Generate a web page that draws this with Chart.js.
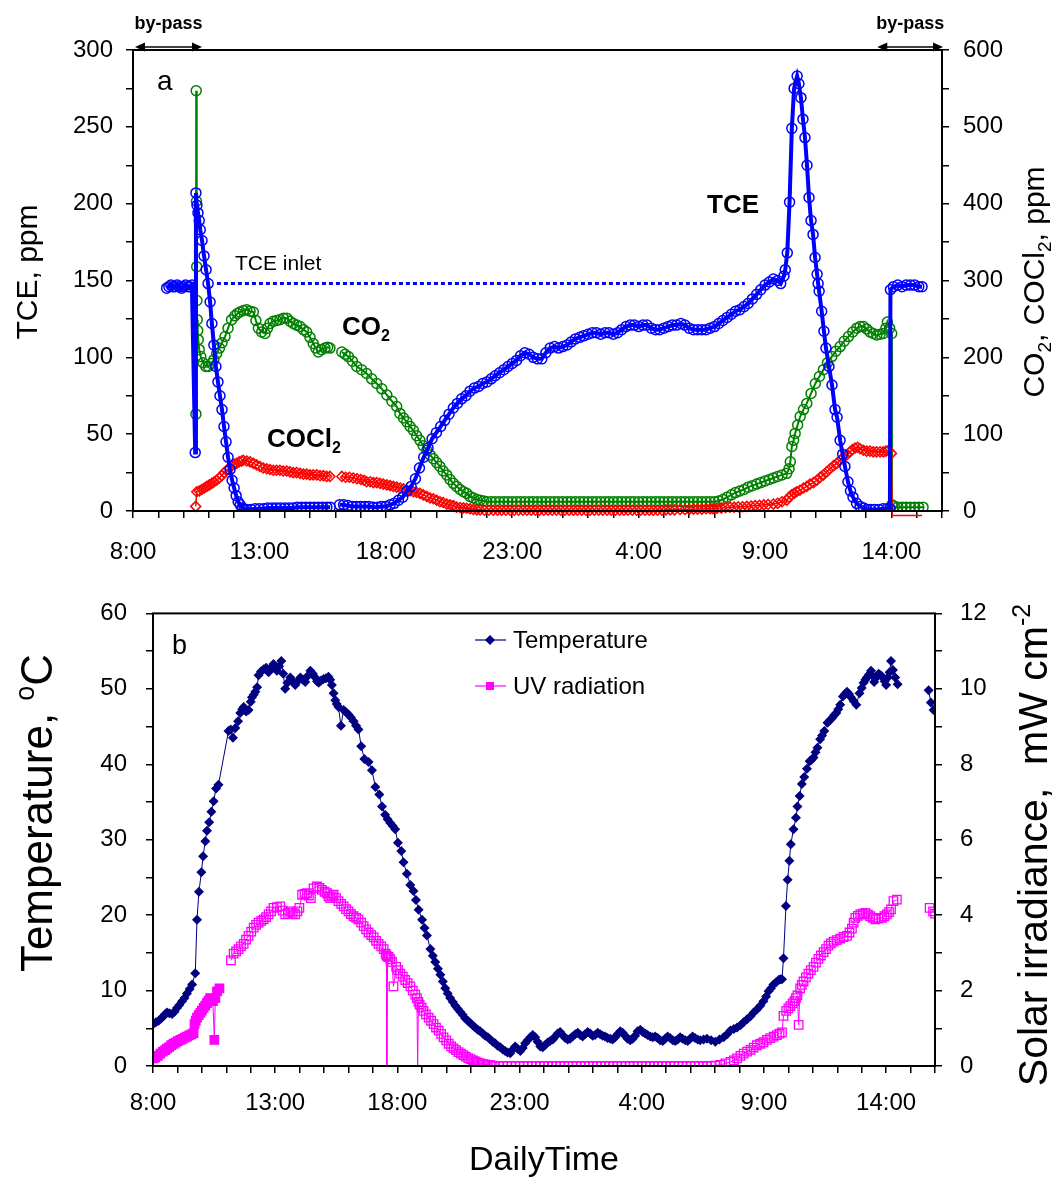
<!DOCTYPE html>
<html>
<head>
<meta charset="utf-8">
<script src="https://cdn.jsdelivr.net/npm/chart.js@4.4.0/dist/chart.umd.min.js"></script>
<style>
  html, body { margin: 0; padding: 0; background: #fff; }
  #wrap { position: relative; width: 1052px; height: 1177px; }
  canvas { position: absolute; left: 0; }
  #topChart { top: 0; }
  #bottomChart { top: 580px; }
</style>
</head>
<body>
<div id="wrap">
  <canvas id="topChart" width="1052" height="580"></canvas>
  <canvas id="bottomChart" width="1052" height="597"></canvas>
</div>
<script>
// time is in hours from midnight of day 1 (28 = 4:00 next day)

// panel a: TCE on the left axis, CO2 and COCl2 on the right axis (ppm)
const tce = [
  [9.33,145],[9.42,146],[9.5,147],[9.58,146],[9.67,146],[9.75,147],[9.83,146],[9.92,145],[10.0,146],[10.08,147],[10.17,146],[10.25,146],[10.33,147],
  [10.46,38],[10.49,207],[10.53,199],[10.57,194],[10.62,189],[10.66,183],[10.73,176],[10.81,166],[10.89,157],[10.97,148],[11.05,136],[11.12,122],[11.2,108],
  [11.28,94],[11.36,84],[11.44,75],[11.52,66],[11.6,55],[11.68,45],[11.76,35],[11.84,27],[11.92,20],[12.0,15],[12.08,10],[12.16,6],[12.24,4],[12.32,2],[12.4,1],
  [12.5,1],[12.67,1],[12.83,1.5],[13.0,1.5],[13.17,1.5],[13.33,2],[13.5,2],[13.67,2],[13.83,2],[14.0,2],[14.17,2],[14.33,2],[14.5,2.5],[14.67,2.5],
  [14.83,2.5],[15.0,2.5],[15.17,2.5],[15.33,2.5],[15.5,2.5],[15.67,2.5],[15.8,2.5],
  [16.0,null],
  [16.17,4],[16.33,4],[16.5,3.5],[16.67,3],[16.83,3],[17.0,3],[17.17,3],[17.33,3],[17.5,2.5],[17.67,2.5],[17.83,3],[18.0,3],[18.17,4],[18.33,5],[18.5,7],
  [18.67,9],[18.83,13],[19.0,16],[19.17,21],[19.33,28],[19.5,35],[19.67,41],[19.83,47],[20.0,51],[20.17,55],[20.33,59],[20.5,63],[20.67,67],[20.83,70],
  [21.0,73],[21.17,75],[21.33,78],[21.5,80],[21.67,81],[21.83,83],[22.0,84],[22.17,86],[22.33,88],[22.5,90],[22.67,92],[22.83,94],[23.0,96],[23.17,98],
  [23.33,101],[23.5,103],[23.67,102],[23.83,100],[24.0,99],[24.17,99],[24.33,103],[24.5,106],[24.67,107],[24.83,106],[25.0,107],[25.17,108],[25.33,110],
  [25.5,112],[25.67,113],[25.83,114],[26.0,115],[26.17,116],[26.33,116],[26.5,115],[26.67,116],[26.83,116],[27.0,115],[27.17,116],[27.33,118],[27.5,120],
  [27.67,121],[27.83,121],[28.0,120],[28.17,121],[28.33,121],[28.5,119],[28.67,118],[28.83,118],[29.0,119],[29.17,120],[29.33,121],[29.5,121],[29.67,122],
  [29.83,121],[30.0,119],[30.17,118],[30.33,118],[30.5,118],[30.67,118],[30.83,119],[31.0,120],[31.17,122],[31.33,124],[31.5,126],[31.67,128],[31.83,130],
  [32.0,131],[32.17,133],[32.33,135],[32.5,138],[32.67,141],[32.83,144],[33.0,147],[33.17,149],[33.33,151],[33.5,150],[33.62,148],[33.75,153],[33.8,157],
  [33.88,168],[33.97,201],[34.06,249],[34.15,275],[34.27,283],[34.34,278],[34.42,269],[34.5,255],[34.58,243],[34.66,225],[34.74,204],[34.82,189],[34.9,180],
  [34.98,165],[35.06,154],[35.1,148],[35.14,143],[35.24,130],[35.33,117],[35.41,106],[35.53,94],[35.65,82],[35.77,66],[35.85,61],[35.97,46],[36.07,37],
  [36.16,29],[36.28,19],[36.38,13],[36.48,9],[36.62,5],[36.76,3],[36.9,2],[37.03,1],[37.17,1],[37.33,1],[37.5,1],[37.67,1.5],[37.83,1.5],[37.94,1.5],
  [37.96,144],[38.08,146],[38.25,147],[38.42,146],[38.58,147],[38.75,147],[38.92,147],[39.08,146],[39.21,146]
];

const co2 = [
  [10.49,126],[10.5,547],[10.51,403],[10.52,318],[10.53,274],[10.54,249],[10.56,235],[10.58,223],[10.62,210],[10.68,201],[10.77,193],[10.88,188],[10.98,188],
  [11.1,192],[11.2,197],[11.31,205],[11.42,212],[11.52,219],[11.64,227],[11.76,238],[11.9,249],[12.03,254],[12.13,257],[12.23,259],[12.37,261],[12.5,262],
  [12.63,260],[12.76,259],[12.86,248],[12.96,238],[13.09,233],[13.22,231],[13.32,238],[13.42,244],[13.55,247],[13.68,248],[13.81,249],[13.95,251],[14.08,251],
  [14.21,247],[14.34,244],[14.47,242],[14.61,240],[14.74,236],[14.87,233],[15.0,226],[15.13,218],[15.23,212],[15.33,207],[15.46,210],[15.59,212],[15.7,213],
  [15.79,212],
  [16.0,null],
  [16.26,207],[16.39,204],[16.52,201],[16.68,195],[16.85,188],[17.04,184],[17.24,179],[17.44,172],[17.64,166],[17.84,159],[18.04,151],[18.24,143],[18.43,136],
  [18.56,127],[18.7,121],[18.83,116],[18.96,110],[19.09,105],[19.22,98],[19.35,92],[19.48,85],[19.62,79],[19.75,73],[19.88,68],[20.01,63],[20.14,58],
  [20.27,52],[20.41,47],[20.54,41],[20.67,36],[20.8,32],[20.94,28],[21.07,25],[21.2,23],[21.33,19],[21.46,17],[21.6,15],[21.73,14],[21.87,13],
  [22.0,12],[22.17,12],[22.33,12],[22.5,12],[22.67,12],[22.83,12],[23.0,12],[23.17,12],[23.33,12],[23.5,12],[23.67,12],[23.83,12],[24.0,12],[24.17,12],
  [24.33,12],[24.5,12],[24.67,12],[24.83,12],[25.0,12],[25.17,12],[25.33,12],[25.5,12],[25.67,12],[25.83,12],[26.0,12],[26.17,12],[26.33,12],[26.5,12],
  [26.67,12],[26.83,12],[27.0,12],[27.17,12],[27.33,12],[27.5,12],[27.67,12],[27.83,12],[28.0,12],[28.17,12],[28.33,12],[28.5,12],[28.67,12],[28.83,12],
  [29.0,12],[29.17,12],[29.33,12],[29.5,12],[29.67,12],[29.83,12],[30.0,12],[30.17,12],[30.33,12],[30.5,12],[30.67,12],[30.83,12],[31.0,12],
  [31.17,13],[31.33,15],[31.5,18],[31.67,21],[31.83,24],[32.0,26],[32.17,28],[32.33,31],[32.5,33],[32.67,35],[32.83,37],[33.0,39],[33.17,41],[33.33,43],
  [33.5,45],[33.67,47],[33.86,49],[33.95,55],[34.0,64],[34.06,84],[34.13,92],[34.19,101],[34.29,112],[34.39,123],[34.52,132],[34.65,140],[34.82,153],
  [34.99,166],[35.15,175],[35.31,184],[35.47,193],[35.64,201],[35.8,208],[35.97,214],[36.13,221],[36.3,227],[36.47,233],[36.63,238],[36.76,240],[36.89,240],
  [37.02,237],[37.15,233],[37.28,231],[37.42,229],[37.55,230],[37.68,231],[37.78,238],[37.84,246],[37.93,238],[38.01,231],
  [38.02,8],[38.12,6],[38.25,5],[38.42,5],[38.58,5],[38.75,5],[38.92,5],[39.08,5],[39.25,5]
];

const cocl2 = [
  [10.48,6],[10.52,25],[10.62,26],[10.72,28],[10.82,30],[10.92,32],[11.02,34],[11.12,36],[11.21,38],[11.31,40],[11.41,43],[11.51,46],[11.61,50],[11.71,53],
  [11.81,56],[11.91,59],[12.0,61],[12.1,62],[12.2,64],[12.3,65],[12.36,66],[12.5,65],[12.63,64],[12.76,62],[12.89,60],[13.02,58],[13.15,56],[13.29,55],
  [13.42,54],[13.55,53],[13.68,53],[13.81,53],[13.94,52],[14.08,52],[14.21,51],[14.34,50],[14.47,50],[14.61,49],[14.74,48],[14.87,48],[15.0,47],[15.13,47],
  [15.27,47],[15.4,46],[15.53,46],[15.66,45],[15.79,45],
  [16.0,null],
  [16.26,45],[16.41,44],[16.56,44],[16.71,43],[16.86,42],[17.01,41],[17.14,40],[17.24,38],[17.38,38],[17.51,37],[17.64,37],[17.77,36],[17.9,35],[18.04,34],
  [18.17,33],[18.3,32],[18.43,31],[18.57,30],[18.7,29],[18.83,27],[18.96,26],[19.09,25],[19.22,24],[19.35,23],[19.48,21],[19.62,19],[19.75,17],[19.88,16],
  [20.01,14],[20.14,12],[20.27,11],[20.41,9],[20.54,8],[20.67,7],[20.8,5],[20.94,4.5],[21.07,4],[21.2,3.5],[21.33,3],[21.46,2],[21.6,1.5],[21.73,1.3],
  [21.9,1],[22.08,1],[22.25,1],[22.42,1],[22.58,1],[22.75,1],[22.92,1],[23.08,1],[23.25,1],[23.42,1],[23.58,1],[23.75,1],[23.92,1],[24.08,1],[24.25,1],
  [24.42,1],[24.58,1],[24.75,1],[24.92,1],[25.08,1],[25.25,1],[25.42,1],[25.58,1],[25.75,1],[25.92,1],[26.08,1],[26.25,1],[26.42,1],[26.58,1],[26.75,1],
  [26.92,1],[27.08,1],[27.25,1],[27.42,1],[27.58,1],[27.75,1],[27.92,1],[28.08,1],[28.25,1],[28.42,1],[28.58,1],[28.75,1],[28.92,1],[29.08,1.5],[29.25,1.5],
  [29.42,1.5],[29.64,2],[29.83,2],[30.0,2],[30.17,2.5],[30.33,2.5],[30.5,2.5],[30.67,3],[30.83,3],[30.94,3],[31.1,3.5],[31.27,4],[31.44,4.5],[31.61,5],
  [31.78,5],[31.94,5.5],[32.11,5.5],[32.28,6],[32.45,6.5],[32.61,7],[32.78,7.5],[32.95,8],[33.12,8.5],[33.33,9],[33.5,10],[33.67,12],[33.86,14],[33.95,18],
  [34.05,21],[34.15,23],[34.25,25],[34.38,27],[34.52,30],[34.65,32],[34.78,35],[34.92,37],[35.05,40],[35.18,44],[35.31,47],[35.44,51],[35.57,55],[35.71,59],
  [35.84,62],[35.97,66],[36.1,70],[36.23,73],[36.36,77],[36.46,80],[36.56,82],[36.66,83],[36.76,81],[36.89,79],[37.02,78],[37.15,78],[37.28,77],[37.41,77],
  [37.55,77],[37.68,77],[37.78,78],[37.88,79],[38.0,75],
  [38.03,-6],[39.21,-6]
];

// inlet concentration (dotted reference) and by-pass periods
const tceInlet = 148;
const tceInletSpan = [11.32, 32.2];
const bypassSpans = [[8.08, 10.73], [37.44, 40.04]];

// panel b: temperature (°C) and UV irradiance (mW cm-2)
const temperature = [
  [8.02,5.6],[8.12,5.8],[8.23,6.0],[8.33,6.3],[8.43,6.6],[8.5,6.9],[8.57,7.1],[8.67,7.0],[8.78,6.9],[8.88,7.2],[8.98,7.7],[9.08,8.1],[9.19,8.6],[9.29,9.0],
  [9.39,9.6],[9.5,10.2],[9.6,10.8],[9.73,12.3],[9.8,19.4],[9.88,23.1],[9.98,25.7],[10.05,27.8],[10.14,29.8],[10.21,31.2],[10.3,32.3],[10.39,33.7],[10.48,35.1],
  [10.58,36.8],[10.68,37.3],[11.09,44.4],[11.18,44.6],[11.27,43.5],[11.37,44.8],[11.48,45.7],[11.57,46.8],[11.65,47.3],[11.71,47.6],[11.81,47.0],[11.91,47.2],
  [12.0,48.3],[12.05,48.9],[12.12,49.2],[12.19,49.6],[12.26,50.2],[12.32,51.8],[12.42,52.3],[12.53,52.6],[12.63,52.8],[12.73,52.2],[12.83,52.8],[12.93,53.3],
  [13.0,52.9],[13.07,52.4],[13.16,53.0],[13.25,53.7],[13.33,52.0],[13.41,50.0],[13.5,50.8],[13.62,51.5],[13.72,51.0],[13.82,50.5],[13.92,51.0],[14.03,51.5],
  [14.13,51.2],[14.23,50.9],[14.33,51.7],[14.44,52.4],[14.54,52.0],[14.64,51.5],[14.71,51.0],[14.78,50.8],[14.88,51.1],[14.98,51.3],[15.08,51.4],[15.18,51.6],
  [15.25,51.2],[15.32,50.5],[15.39,49.4],[15.46,48.5],[15.52,48.0],[15.59,47.6],[15.69,45.1],[15.8,47.2],[15.9,46.9],[16.0,46.6],[16.1,46.2],[16.21,45.7],
  [16.31,45.1],[16.41,44.6],[16.52,42.4],[16.65,40.7],[16.82,40.3],[16.96,39.2],[17.1,37.0],[17.26,36.0],[17.37,34.4],[17.5,33.3],[17.6,32.7],[17.71,32.2],
  [17.81,31.8],[17.91,31.4],[18.02,29.6],[18.16,28.5],[18.25,27.0],[18.39,25.5],[18.53,24.0],[18.66,23.2],[18.76,22.0],[18.87,20.7],[19.01,19.4],[19.11,18.3],
  [19.21,17.3],[19.35,15.5],[19.45,14.6],[19.55,13.8],[19.66,12.9],[19.76,12.1],[19.86,11.2],[19.96,10.3],[20.06,9.6],[20.16,9.0],[20.27,8.5],[20.37,8.0],
  [20.47,7.6],[20.57,7.2],[20.67,6.8],[20.78,6.3],[20.88,6.0],[20.98,5.7],[21.08,5.4],[21.18,5.1],[21.29,4.8],[21.39,4.6],[21.49,4.3],[21.59,4.0],[21.7,3.8],
  [21.8,3.5],[21.9,3.2],[22.0,3.0],[22.1,2.7],[22.21,2.5],[22.31,2.2],[22.41,2.0],[22.51,1.8],[22.62,1.7],[22.72,2.2],[22.82,2.6],[22.92,2.3],[23.03,2.0],
  [23.13,2.4],[23.23,3.0],[23.33,3.4],[23.44,3.8],[23.54,4.1],[23.64,3.8],[23.74,3.2],[23.85,2.6],[23.95,2.5],[24.05,2.8],[24.15,3.1],[24.25,3.3],[24.36,3.5],
  [24.46,3.9],[24.56,4.3],[24.66,4.5],[24.76,4.1],[24.87,3.7],[24.97,3.5],[25.07,3.6],[25.17,3.9],[25.28,4.2],[25.38,4.4],[25.48,4.1],[25.58,3.9],[25.68,4.2],
  [25.79,4.5],[25.89,4.3],[25.99,4.0],[26.09,4.1],[26.2,4.4],[26.3,4.2],[26.4,4.0],[26.5,3.9],[26.6,3.7],[26.71,3.6],[26.81,3.5],[26.91,3.8],[27.01,4.2],
  [27.12,4.6],[27.22,4.4],[27.32,4.0],[27.42,3.6],[27.53,3.4],[27.63,3.6],[27.73,4.0],[27.83,4.6],[27.94,4.8],[28.04,4.5],[28.14,4.3],[28.24,4.1],[28.35,3.9],
  [28.45,3.8],[28.55,3.9],[28.65,3.7],[28.75,3.4],[28.86,3.3],[28.96,3.6],[29.06,3.9],[29.16,3.7],[29.27,3.4],[29.37,3.3],[29.47,3.5],[29.57,3.8],[29.67,3.6],
  [29.78,3.4],[29.88,3.3],[29.98,3.6],[30.08,3.9],[30.18,3.7],[30.29,3.5],[30.39,3.4],[30.53,3.5],[30.67,3.6],[30.84,3.4],[31.01,3.2],[31.18,3.5],[31.35,3.8],
  [31.49,4.2],[31.63,4.7],[31.77,4.9],[31.9,5.1],[32.04,5.4],[32.17,5.8],[32.31,6.2],[32.45,6.6],[32.58,7.1],[32.71,7.5],[32.85,8.0],[32.98,8.6],[33.09,9.2],
  [33.19,9.9],[33.29,10.3],[33.39,10.8],[33.5,11.1],[33.6,11.4],[33.67,11.5],[33.74,11.5],[33.8,14.3],[33.9,21.2],[33.97,24.7],[34.04,27.2],[34.1,29.4],
  [34.21,31.4],[34.31,32.9],[34.37,34.4],[34.46,35.8],[34.55,37.4],[34.65,38.3],[34.76,39.4],[34.87,40.4],[34.95,40.6],[35.03,40.9],[35.11,41.6],[35.19,42.2],
  [35.3,43.3],[35.38,43.8],[35.47,44.4],[35.6,45.5],[35.69,45.8],[35.78,46.1],[35.87,46.5],[35.96,46.8],[36.04,47.3],[36.12,47.9],[36.23,49.0],[36.32,49.3],
  [36.4,49.6],[36.48,49.3],[36.56,48.9],[36.67,48.4],[36.78,47.9],[36.91,49.4],[37.0,50.1],[37.08,50.8],[37.15,51.2],[37.21,51.5],[37.3,51.9],[37.38,52.4],
  [37.45,51.7],[37.51,50.9],[37.6,51.5],[37.69,52.0],[37.78,51.8],[37.87,51.5],[37.94,51.0],[38.0,50.5],[38.07,51.5],[38.14,52.2],[38.2,53.7],[38.28,52.5],
  [38.37,51.5],[38.47,50.6],
  [39.0,null],
  [39.74,49.8],[39.83,48.2],[39.94,47.2]
];

const uvRadiation = [
  [8.02,0.2],[8.1,0.23],[8.2,0.27],[8.3,0.33],[8.4,0.38],[8.5,0.42],[8.57,0.46],[8.66,0.5],[8.75,0.55],[8.84,0.59],[8.93,0.62],[9.02,0.66],[9.12,0.69],
  [9.21,0.72],[9.3,0.75],[9.39,0.78],[9.48,0.81],[9.57,0.84],[9.66,0.87],[9.7,1.11],[9.75,1.2],[9.8,1.28],[9.87,1.35],[9.94,1.41],[10.0,1.47],[10.07,1.54],
  [10.14,1.6],[10.21,1.67],[10.27,1.73],[10.34,1.8],[10.45,1.72],[10.51,0.69],[10.55,1.8],[10.62,1.98],[10.72,2.06],
  [11.0,null],
  [11.19,2.8],[11.3,2.98],[11.4,3.04],[11.5,3.1],[11.6,3.17],[11.71,3.24],[11.81,3.35],[11.91,3.45],[12.02,3.56],[12.12,3.67],[12.22,3.74],[12.32,3.8],
  [12.43,3.85],[12.53,3.89],[12.63,3.95],[12.73,4.02],[12.83,4.1],[12.93,4.19],[13.07,4.21],[13.21,4.23],[13.31,4.12],[13.41,4.02],[13.52,4.06],[13.62,4.1],
  [13.72,4.06],[13.82,4.02],[13.91,4.1],[13.99,4.19],[14.1,4.54],[14.2,4.56],[14.3,4.58],[14.38,4.52],[14.46,4.45],[14.57,4.71],[14.71,4.76],[14.81,4.72],
  [14.91,4.67],[15.02,4.62],[15.12,4.58],[15.18,4.5],[15.25,4.45],[15.32,4.5],[15.39,4.54],[15.49,4.45],[15.59,4.37],[15.7,4.3],[15.8,4.23],[15.9,4.16],
  [16.0,4.1],[16.1,4.03],[16.21,3.97],[16.31,3.93],[16.41,3.89],[16.52,3.8],[16.62,3.71],[16.72,3.62],[16.82,3.54],[16.93,3.47],[17.03,3.41],[17.13,3.32],
  [17.23,3.24],[17.34,3.17],[17.44,3.1],[17.52,2.98],[17.55,2.93],[17.57,-0.1],[17.6,2.9],[17.64,2.89],[17.71,2.83],[17.78,2.76],[17.84,2.11],[17.95,2.63],
  [18.03,2.54],[18.12,2.45],[18.22,2.37],[18.32,2.28],[18.42,2.2],[18.53,2.11],[18.63,2.0],[18.73,1.89],[18.8,1.8],[18.83,-0.1],[18.86,1.7],[18.91,1.63],
  [18.99,1.55],[19.07,1.46],[19.17,1.37],[19.28,1.28],[19.38,1.2],[19.48,1.11],[19.58,1.02],[19.69,0.94],[19.79,0.85],[19.89,0.76],[20.0,0.68],[20.1,0.59],
  [20.2,0.52],[20.3,0.47],[20.4,0.42],[20.5,0.37],[20.6,0.33],[20.7,0.29],[20.8,0.25],[20.9,0.21],[21.0,0.18],[21.1,0.15],[21.2,0.12],[21.3,0.09],[21.4,0.07],
  [21.5,0.05],[21.6,0.04],[21.7,0.03],[21.8,0.02],[21.9,0.01],[22.0,0],[22.17,0],[22.33,0],[22.5,0],[22.67,0],[22.83,0],[23.0,0],[23.17,0],[23.33,0],[23.5,0],
  [23.67,0],[23.83,0],[24.0,0],[24.17,0],[24.33,0],[24.5,0],[24.67,0],[24.83,0],[25.0,0],[25.17,0],[25.33,0],[25.5,0],[25.67,0],[25.83,0],[26.0,0],[26.17,0],
  [26.33,0],[26.5,0],[26.67,0],[26.83,0],[27.0,0],[27.17,0],[27.33,0],[27.5,0],[27.67,0],[27.83,0],[28.0,0],[28.17,0],[28.33,0],[28.5,0],[28.67,0],[28.83,0],
  [29.0,0],[29.17,0],[29.33,0],[29.5,0],[29.67,0],[29.83,0],[30.0,0],[30.17,0],[30.33,0],[30.5,0],[30.67,0],[30.83,0],[31.0,0.01],
  [31.21,0.03],[31.42,0.07],[31.63,0.11],[31.77,0.15],[31.9,0.2],[32.04,0.27],[32.17,0.33],[32.31,0.38],[32.45,0.43],[32.58,0.49],[32.71,0.55],[32.85,0.59],
  [32.98,0.63],[33.12,0.69],[33.26,0.74],[33.4,0.78],[33.53,0.82],[33.64,0.86],[33.74,0.89],[33.8,1.33],[33.91,1.46],[34.0,1.53],[34.08,1.59],[34.17,1.66],
  [34.25,1.72],[34.31,1.8],[34.37,1.87],[34.42,1.09],[34.48,2.06],[34.55,2.15],[34.62,2.24],[34.72,2.35],[34.82,2.45],[34.92,2.54],[35.03,2.63],[35.13,2.74],
  [35.23,2.84],[35.33,2.93],[35.44,3.02],[35.54,3.1],[35.64,3.19],[35.74,3.25],[35.85,3.3],[35.98,3.34],[36.12,3.38],[36.26,3.42],[36.4,3.45],[36.5,3.54],
  [36.6,3.64],[36.67,3.8],[36.74,3.93],[36.84,3.98],[36.94,4.02],[37.04,4.04],[37.15,4.06],[37.25,4.02],[37.35,3.97],[37.45,3.93],[37.56,3.89],[37.69,3.91],
  [37.83,3.93],[37.93,3.97],[38.03,4.02],[38.12,4.08],[38.2,4.15],[38.3,4.37],[38.44,4.41],
  [39.0,null],
  [39.78,4.19],[39.92,4.1],[40.0,4.04]
];

const FONT = '"Liberation Sans", Arial, Helvetica, sans-serif';
const BLUE = '#0000ff', GREEN = '#008000', RED = '#ff0000', NAVY = '#000080', MAGENTA = '#ff00ff';

Chart.defaults.font.family = FONT;
Chart.defaults.color = '#000';

function clock(h) {
  return (h % 24) + ':00';
}

// text with sub/superscript pieces, optionally turned to read upwards
function richText(ctx, parts, x, y, size, opts) {
  opts = opts || {};
  const weight = opts.bold ? 'bold ' : '';
  const small = Math.round(size * 0.62);
  ctx.save();
  ctx.translate(x, y);
  if (opts.rotate) ctx.rotate(-Math.PI / 2);
  let total = 0;
  for (const [t, k] of parts) {
    ctx.font = weight + (k ? small : size) + 'px ' + FONT;
    total += ctx.measureText(t).width;
  }
  let cx = opts.align === 'left' ? 0 : -total / 2;
  ctx.fillStyle = '#000';
  ctx.textBaseline = 'alphabetic';
  ctx.textAlign = 'left';
  for (const [t, k] of parts) {
    ctx.font = weight + (k ? small : size) + 'px ' + FONT;
    const dy = k === 'sub' ? size * 0.22 : (k === 'sup' ? -size * 0.42 : 0);
    ctx.fillText(t, cx, dy);
    cx += ctx.measureText(t).width;
  }
  ctx.restore();
}

function frame(chart) {
  const a = chart.chartArea, ctx = chart.ctx;
  ctx.save();
  ctx.strokeStyle = '#000';
  ctx.lineWidth = 2;
  ctx.strokeRect(a.left, a.top, a.right - a.left, a.bottom - a.top);
  ctx.restore();
}

function arrowHead(ctx, x, y, dir) {
  ctx.beginPath();
  ctx.moveTo(x, y);
  ctx.lineTo(x - dir * 10, y - 4.5);
  ctx.lineTo(x - dir * 10, y + 4.5);
  ctx.closePath();
  ctx.fill();
}

const panelA = {
  id: 'panelA',
  afterDraw(chart) {
    const ctx = chart.ctx, xs = chart.scales.x;
    frame(chart);
    // by-pass arrows above the frame
    ctx.save();
    ctx.strokeStyle = '#000';
    ctx.fillStyle = '#000';
    ctx.lineWidth = 1.5;
    for (const [a, b] of bypassSpans) {
      const x1 = xs.getPixelForValue(a), x2 = xs.getPixelForValue(b), y = 47;
      ctx.beginPath();
      ctx.moveTo(x1 + 4, y);
      ctx.lineTo(x2 - 4, y);
      ctx.stroke();
      arrowHead(ctx, x1, y, -1);
      arrowHead(ctx, x2, y, 1);
      richText(ctx, [['by-pass', '']], (x1 + x2) / 2, 29, 18, { bold: true });
    }
    ctx.restore();

    richText(ctx, [['a', '']], 157, 90, 28, { align: 'left' });
    richText(ctx, [['TCE inlet', '']], 235, 270, 21, { align: 'left' });
    richText(ctx, [['TCE', '']], 707, 213, 26, { bold: true, align: 'left' });
    richText(ctx, [['CO', ''], ['2', 'sub']], 342, 335, 26, { bold: true, align: 'left' });
    richText(ctx, [['COCl', ''], ['2', 'sub']], 267, 447, 26, { bold: true, align: 'left' });

    // axis titles
    richText(ctx, [['TCE, ppm', '']], 37, 272, 30, { rotate: true });
    richText(ctx, [['CO', ''], ['2', 'sub'], [', COCl', ''], ['2', 'sub'], [', ppm', '']], 1044, 282, 30, { rotate: true });
  }
};

const panelB = {
  id: 'panelB',
  afterDraw(chart) {
    const ctx = chart.ctx;
    frame(chart);
    richText(ctx, [['b', '']], 172, 74, 27, { align: 'left' });

    // legend
    ctx.save();
    ctx.lineWidth = 1.2;
    ctx.strokeStyle = NAVY;
    ctx.beginPath(); ctx.moveTo(475, 60); ctx.lineTo(506, 60); ctx.stroke();
    ctx.fillStyle = NAVY;
    ctx.beginPath(); ctx.moveTo(490, 55); ctx.lineTo(495, 60); ctx.lineTo(490, 65); ctx.lineTo(485, 60); ctx.closePath(); ctx.fill();
    ctx.strokeStyle = MAGENTA;
    ctx.beginPath(); ctx.moveTo(475, 106); ctx.lineTo(506, 106); ctx.stroke();
    ctx.fillStyle = MAGENTA;
    ctx.fillRect(486, 102, 8, 8);
    ctx.restore();
    richText(ctx, [['Temperature', '']], 513, 68, 24, { align: 'left' });
    richText(ctx, [['UV radiation', '']], 513, 114, 24, { align: 'left' });

    // axis titles
    richText(ctx, [['Temperature, ', ''], ['o', 'sup'], ['C', '']], 52, 233, 44, { rotate: true });
    richText(ctx, [['Solar irradiance,  mW cm', ''], ['-2', 'sup']], 1047, 265, 41, { rotate: true });
    richText(ctx, [['DailyTime', '']], 544, 590, 34);
  }
};

function timeAxis(height, pad) {
  return {
    type: 'linear', min: 8, max: 40, position: 'bottom',
    afterFit: (s) => { s.height = height; },
    ticks: {
      stepSize: 1, autoSkip: false, maxRotation: 0, padding: pad,
      font: { size: 24 }, color: '#000',
      callback: (v) => ((v - 8) % 5 === 0 ? clock(v) : '')
    },
    grid: { drawOnChartArea: false, tickLength: 7, color: '#000', lineWidth: 1.5 },
    border: { display: false }
  };
}

function valueAxis(pos, max, step, every, width, pad) {
  return {
    type: 'linear', min: 0, max: max, position: pos,
    afterFit: (s) => { s.width = width; },
    ticks: {
      stepSize: step, padding: pad, font: { size: 24 }, color: '#000',
      callback: (v) => (v % every === 0 ? v : '')
    },
    grid: { drawOnChartArea: false, tickLength: 7, color: '#000', lineWidth: 1.5 },
    border: { display: false }
  };
}

const hollow = 'rgba(0,0,0,0)';

new Chart(document.getElementById('topChart'), {
  type: 'line',
  data: {
    datasets: [
      {
        label: 'TCE', data: tce, yAxisID: 'y',
        borderColor: BLUE, borderWidth: 4, tension: 0,
        pointStyle: 'circle', pointRadius: 5, pointBorderWidth: 1.5,
        pointBorderColor: BLUE, pointBackgroundColor: hollow
      },
      {
        label: 'COCl2', data: cocl2, yAxisID: 'y1',
        borderColor: RED, borderWidth: 1.5, tension: 0, clip: 10,
        pointStyle: 'rectRot', pointBorderWidth: 1.5,
        pointRadius: (c) => (c.raw && c.raw[1] < 0 ? 0 : 5),
        pointBorderColor: RED, pointBackgroundColor: hollow
      },
      {
        label: 'CO2', data: co2, yAxisID: 'y1',
        borderColor: GREEN, borderWidth: 2, tension: 0,
        pointStyle: 'circle', pointRadius: 5, pointBorderWidth: 1.5,
        pointBorderColor: GREEN, pointBackgroundColor: hollow
      },
      {
        label: 'TCE inlet',
        data: [[tceInletSpan[0], tceInlet], [tceInletSpan[1], tceInlet]], yAxisID: 'y',
        borderColor: BLUE, borderWidth: 3, borderDash: [4, 3], pointRadius: 0
      }
    ]
  },
  options: {
    responsive: false, animation: false, events: [],
    layout: { padding: { top: 50, left: 0, right: 0, bottom: 0 } },
    plugins: { legend: { display: false }, tooltip: { enabled: false } },
    scales: {
      x: timeAxis(69, 20),
      y: valueAxis('left', 300, 25, 50, 133, 13),
      y1: valueAxis('right', 600, 50, 100, 110, 14)
    }
  },
  plugins: [panelA]
});

new Chart(document.getElementById('bottomChart'), {
  type: 'line',
  data: {
    datasets: [
      {
        label: 'Temperature', data: temperature, yAxisID: 'y',
        borderColor: NAVY, borderWidth: 1, tension: 0,
        pointStyle: 'rectRot', pointRadius: 5, pointBorderWidth: 0,
        pointBorderColor: NAVY, pointBackgroundColor: NAVY
      },
      {
        label: 'UV radiation', data: uvRadiation, yAxisID: 'y1',
        borderColor: MAGENTA, borderWidth: 1, tension: 0,
        pointStyle: 'rect', pointBorderWidth: 1.3,
        pointRadius: (c) => (c.raw && c.raw[1] < 0 ? 0 : 6),
        pointBorderColor: MAGENTA,
        pointBackgroundColor: (c) => (c.raw && c.raw[0] < 10.9 ? MAGENTA : hollow)
      }
    ]
  },
  options: {
    responsive: false, animation: false, events: [],
    layout: { padding: { top: 25, left: 0, right: 0, bottom: 0 } },
    plugins: { legend: { display: false }, tooltip: { enabled: false } },
    scales: {
      x: timeAxis(111, 16),
      y: valueAxis('left', 60, 5, 10, 153, 19),
      y1: valueAxis('right', 12, 1, 2, 117, 18)
    }
  },
  plugins: [panelB]
});
</script>
